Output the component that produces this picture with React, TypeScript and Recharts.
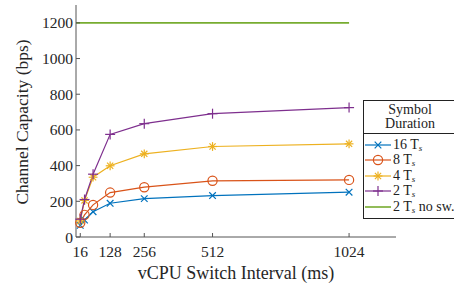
import { Line, LineChart, XAxis, YAxis } from "recharts";

const intervals = [16, 32, 64, 128, 256, 512, 1024];
const cap16Ts = [65, 95, 142, 189, 215, 232, 251];
const cap8Ts = [80, 124, 180, 249, 279, 315, 320];
const cap4Ts = [90, 205, 335, 399, 466, 507, 522];
const cap2Ts = [100, 210, 352, 575, 635, 691, 725];
const noSwitchIntervals = [0, 1024];
const noSwitchCap = [1200, 1200];

const xTicks = [16, 128, 256, 512, 1024];
const yTicks = [0, 200, 400, 600, 800, 1000, 1200];

const colors = {
  t16: "#0072BD",
  t8: "#D95319",
  t4: "#EDB120",
  t2: "#7E2F8E",
  noSw: "#77AC30",
};

const data = intervals.map((x, i) => ({
  x,
  t16: cap16Ts[i],
  t8: cap8Ts[i],
  t4: cap4Ts[i],
  t2: cap2Ts[i],
}));

const noSwitchData = noSwitchIntervals.map((x, i) => ({ x, noSw: noSwitchCap[i] }));

const font =
  '"Liberation Serif", "Nimbus Roman", "Noto Serif", "FreeSerif", "Tinos", "DejaVu Serif", serif';
const axisColor = "#555";
const textColor = "#262626";

type Kind = "cross" | "circle" | "star" | "plus";

function Marker({ kind, cx, cy, color }: { kind: Kind; cx: number; cy: number; color: string }) {
  const s = 1.2;
  if (kind === "circle") {
    return <circle cx={cx} cy={cy} r={4.6} fill="none" stroke={color} strokeWidth={s} />;
  }
  if (kind === "cross") {
    const d = 3.3;
    return (
      <g stroke={color} strokeWidth={s}>
        <line x1={cx - d} y1={cy - d} x2={cx + d} y2={cy + d} />
        <line x1={cx - d} y1={cy + d} x2={cx + d} y2={cy - d} />
      </g>
    );
  }
  if (kind === "plus") {
    const d = 5;
    return (
      <g stroke={color} strokeWidth={s}>
        <line x1={cx - d} y1={cy} x2={cx + d} y2={cy} />
        <line x1={cx} y1={cy - d} x2={cx} y2={cy + d} />
      </g>
    );
  }
  const d = 4.4;
  const e = 3.1;
  return (
    <g stroke={color} strokeWidth={s}>
      <line x1={cx - d} y1={cy} x2={cx + d} y2={cy} />
      <line x1={cx} y1={cy - d} x2={cx} y2={cy + d} />
      <line x1={cx - e} y1={cy - e} x2={cx + e} y2={cy + e} />
      <line x1={cx - e} y1={cy + e} x2={cx + e} y2={cy - e} />
    </g>
  );
}

function dotFor(kind: Kind, color: string) {
  return (props: any) => (
    <g key={`${kind}-${props.index}`}>
      <Marker kind={kind} cx={props.cx} cy={props.cy} color={color} />
    </g>
  );
}

const legendRows: { label: string; extra?: string; kind?: Kind; color: string }[] = [
  { label: "16", kind: "cross", color: colors.t16 },
  { label: "8", kind: "circle", color: colors.t8 },
  { label: "4", kind: "star", color: colors.t4 },
  { label: "2", kind: "plus", color: colors.t2 },
  { label: "2", extra: " no sw.", color: colors.noSw },
];

function LegendBox() {
  return (
    <div
      style={{
        position: "absolute",
        left: 363,
        top: 100,
        width: 94,
        border: "1px solid #222",
        background: "#fff",
        fontFamily: font,
        fontSize: 14,
        color: "#222",
        boxSizing: "border-box",
      }}
    >
      <div style={{ textAlign: "center", lineHeight: "14px", padding: "2px 0 2px", borderBottom: "1px solid #222" }}>
        Symbol
        <br />
        Duration
      </div>
      <div style={{ padding: "3px 0 3px" }}>
        {legendRows.map((r, i) => (
          <div key={i} style={{ display: "flex", alignItems: "center", height: 15.5, whiteSpace: "nowrap" }}>
            <svg width={28} height={14} style={{ flex: "none" }}>
              <line x1={1} y1={7} x2={27} y2={7} stroke={r.color} strokeWidth={r.kind ? 1.2 : 1.6} />
              {r.kind && <Marker kind={r.kind} cx={14} cy={7} color={r.color} />}
            </svg>
            <span style={{ marginLeft: 1 }}>
              {r.label} T<sub style={{ fontStyle: "italic", fontSize: 9, verticalAlign: "-2px" }}>s</sub>
              {r.extra}
            </span>
          </div>
        ))}
      </div>
    </div>
  );
}

export default function App() {
  return (
    <div style={{ position: "absolute", left: 0, top: 0, width: 454, height: 287, background: "#fff" }}>
      <LineChart width={454} height={287} margin={{ top: 5, right: 58, left: 0, bottom: 0 }}>
        <XAxis
          dataKey="x"
          type="number"
          domain={[0, 1200]}
          ticks={xTicks}
          allowDuplicatedCategory={false}
          height={50}
          stroke={axisColor}
          tickSize={-4}
          tickMargin={13}
          tick={{ fill: textColor, fontSize: 15.5, fontFamily: font }}
          label={{
            value: "vCPU Switch Interval (ms)",
            position: "insideBottom",
            offset: 8,
            fill: textColor,
            fontSize: 18,
            fontFamily: font,
          }}
        />
        <YAxis
          type="number"
          domain={[0, 1300]}
          ticks={yTicks}
          width={76}
          stroke={axisColor}
          tickSize={-4}
          tickMargin={7}
          tick={{ fill: textColor, fontSize: 15.5, fontFamily: font }}
          label={{
            content: () => (
              <text
                x={22}
                y={122}
                transform="rotate(-90 22 122)"
                textAnchor="middle"
                dominantBaseline="central"
                fill={textColor}
                fontSize={17.5}
                fontFamily={font}
              >
                Channel Capacity (bps)
              </text>
            ),
          }}
        />
        <Line
          data={noSwitchData}
          dataKey="noSw"
          stroke={colors.noSw}
          strokeWidth={1.6}
          dot={false}
          isAnimationActive={false}
        />
        <Line data={data} dataKey="t16" stroke={colors.t16} strokeWidth={1.2} dot={dotFor("cross", colors.t16)} isAnimationActive={false} />
        <Line data={data} dataKey="t8" stroke={colors.t8} strokeWidth={1.2} dot={dotFor("circle", colors.t8)} isAnimationActive={false} />
        <Line data={data} dataKey="t4" stroke={colors.t4} strokeWidth={1.2} dot={dotFor("star", colors.t4)} isAnimationActive={false} />
        <Line data={data} dataKey="t2" stroke={colors.t2} strokeWidth={1.2} dot={dotFor("plus", colors.t2)} isAnimationActive={false} />
      </LineChart>
      <LegendBox />
    </div>
  );
}
